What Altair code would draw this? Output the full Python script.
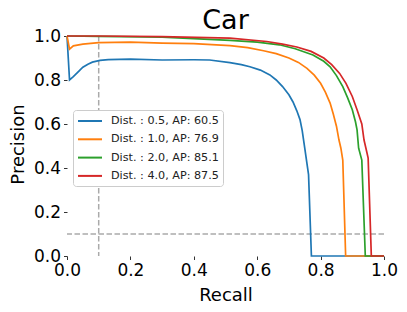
import altair as alt
import pandas as pd

series_labels = [
    "Dist. : 0.5, AP: 60.5",
    "Dist. : 1.0, AP: 76.9",
    "Dist. : 2.0, AP: 85.1",
    "Dist. : 4.0, AP: 87.5",
]
series_colors = ["#1f77b4", "#ff7f0e", "#2ca02c", "#d62728"]

recall_05 = [0.0, 0.008, 0.02, 0.036, 0.05, 0.066, 0.08, 0.104, 0.13, 0.2, 0.3, 0.4, 0.45,
             0.514, 0.55, 0.577, 0.61, 0.64, 0.66, 0.68, 0.70, 0.713, 0.725, 0.735, 0.742,
             0.75, 0.757, 0.762, 0.771, 1.0]
prec_05 = [1.0, 0.80, 0.815, 0.838, 0.858, 0.872, 0.881, 0.889, 0.893, 0.895, 0.891, 0.892, 0.891,
           0.879, 0.870, 0.860, 0.845, 0.823, 0.800, 0.770, 0.733, 0.700, 0.660, 0.620, 0.570,
           0.49, 0.42, 0.37, 0.0, 0.0]

recall_10 = [0.0, 0.008, 0.02, 0.05, 0.1, 0.2, 0.3, 0.4, 0.514, 0.57, 0.62, 0.66, 0.70, 0.73,
             0.757, 0.78, 0.80, 0.815, 0.83, 0.84, 0.85, 0.858, 0.864, 0.87, 0.879, 1.0]
prec_10 = [1.0, 0.94, 0.955, 0.963, 0.970, 0.972, 0.968, 0.965, 0.956, 0.947, 0.933, 0.92, 0.90, 0.88,
           0.853, 0.822, 0.785, 0.745, 0.695, 0.645, 0.59, 0.527, 0.49, 0.436, 0.0, 0.0]

recall_20 = [0.0, 0.1, 0.3, 0.514, 0.6, 0.67, 0.72, 0.776, 0.81, 0.83, 0.85, 0.87, 0.885, 0.90,
             0.91, 0.915, 0.92, 0.93, 0.941, 1.0]
prec_20 = [1.0, 0.998, 0.995, 0.98, 0.972, 0.96, 0.942, 0.914, 0.885, 0.86, 0.82, 0.77, 0.72, 0.665,
           0.61, 0.573, 0.49, 0.436, 0.0, 0.0]

recall_40 = [0.0, 0.1, 0.3, 0.514, 0.63, 0.68, 0.725, 0.77, 0.81, 0.835, 0.86, 0.88, 0.90, 0.915,
             0.93, 0.937, 0.943, 0.95, 0.96, 1.0]
prec_40 = [1.0, 1.0, 0.997, 0.99, 0.975, 0.963, 0.95, 0.93, 0.90, 0.87, 0.83, 0.785, 0.725, 0.665,
           0.60, 0.527, 0.49, 0.445, 0.0, 0.0]

vline_x = [0.1]
hline_y = [0.1]
tick_values = [0.0, 0.2, 0.4, 0.6, 0.8, 1.0]

rows = []
for label, rec, pre in zip(series_labels,
                           [recall_05, recall_10, recall_20, recall_40],
                           [prec_05, prec_10, prec_20, prec_40]):
    for i, (r, p) in enumerate(zip(rec, pre)):
        rows.append({"series": label, "recall": r, "precision": p, "idx": i})
df = pd.DataFrame(rows)

FONT = "DejaVu Sans"

xscale = alt.Scale(domain=[0, 1], nice=False)
yscale = alt.Scale(domain=[0, 1], nice=False)

lines = alt.Chart(df).mark_line(strokeWidth=1.7).encode(
    x=alt.X("recall:Q", scale=xscale,
            axis=alt.Axis(title="Recall", values=tick_values, format=".1f",
                          labelFlush=False,
                          titleY=44, titleBaseline="alphabetic")),
    y=alt.Y("precision:Q", scale=yscale,
            axis=alt.Axis(title="Precision", values=tick_values, format=".1f",
                          titleX=-44, titleY=108, titleBaseline="alphabetic")),
    color=alt.Color("series:N",
                    scale=alt.Scale(domain=series_labels, range=series_colors),
                    legend=alt.Legend(title=None, orient="none", legendX=6, legendY=74)),
    order="idx:Q",
    detail="series:N",
)

vrule = alt.Chart(pd.DataFrame({"x": vline_x})).mark_rule(
    color="#aaaaaa", strokeWidth=1.5, strokeDash=[5.5, 2.5]
).encode(x=alt.X("x:Q", scale=xscale))

hrule = alt.Chart(pd.DataFrame({"y": hline_y})).mark_rule(
    color="#aaaaaa", strokeWidth=1.5, strokeDash=[5.5, 2.5]
).encode(y=alt.Y("y:Q", scale=yscale))

chart = alt.layer(vrule, hrule, lines).properties(
    width=317, height=220,
    title=alt.TitleParams("Car", fontSize=27, font=FONT, fontWeight="normal",
                          anchor="middle", offset=-8, color="black"),
    autosize=alt.AutoSizeParams(type="none"),
    padding={"left": 59, "top": 28, "right": 15, "bottom": 48},
).configure_view(stroke=None).configure_axis(
    grid=False, domain=False, tickColor="#333333", tickSize=3.5, tickWidth=1,
    labelFont=FONT, labelFontSize=17, labelColor="black", labelPadding=3,
    titleFont=FONT, titleFontSize=18, titleFontWeight="normal", titleColor="black",
).configure_legend(
    labelFont=FONT, labelFontSize=11.2, labelColor="#222222", labelOffset=20,
    symbolType="M-1,0H3", symbolSize=144, symbolStrokeWidth=2,
    fillColor="white", strokeColor="#cccccc", cornerRadius=3, padding=4,
    rowPadding=5.3,
)

chart.save("out.html", embed_options={"renderer": "svg", "actions": False})
